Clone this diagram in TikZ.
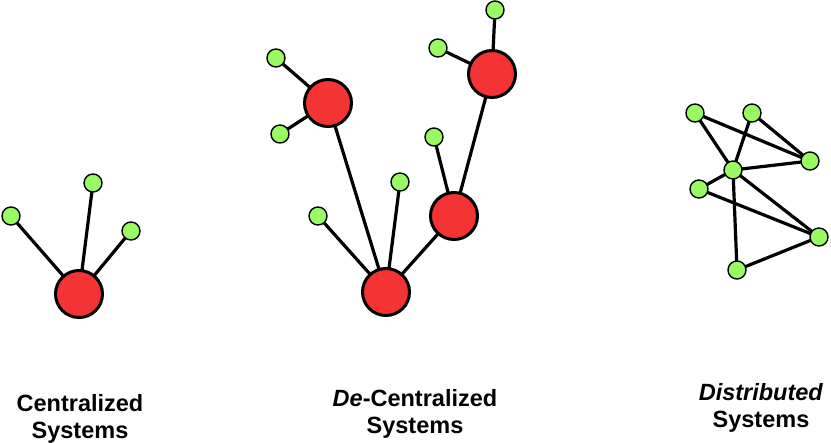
\documentclass[tikz,border=0pt]{standalone}
\usepackage{fontspec}
\setmainfont{Liberation Sans}
\usetikzlibrary{backgrounds}
\definecolor{hubred}{RGB}{244,52,52}
\definecolor{leafgreen}{RGB}{153,250,100}
\begin{document}
\begin{tikzpicture}[x=1pt,y=-1pt,
  hub/.style={circle,draw=black,line width=3pt,fill=hubred,minimum size=47pt,inner sep=0pt},
  leaf/.style={circle,draw=black,line width=1.4pt,fill=leafgreen,minimum size=18pt,inner sep=0pt},
  link/.style={line width=3.2pt},
  lbl/.style={align=center,font=\fontsize{23.5}{27}\selectfont\bfseries}]
\useasboundingbox (0,0) rectangle (831,443);
% Centralized
\node[hub] (c0) at (79,294) {};
\node[leaf] (c1) at (11,216) {};
\node[leaf] (c2) at (93,183) {};
\node[leaf] (c3) at (131,231) {};
% Decentralized
\node[hub] (d0) at (386,292) {};
\node[hub] (d1) at (454,216) {};
\node[hub] (d2) at (328,103) {};
\node[hub] (d3) at (492,74) {};
\node[leaf] (l1) at (318,216) {};
\node[leaf] (l2) at (400,182) {};
\node[leaf] (l3) at (276,58) {};
\node[leaf] (l4) at (280,134) {};
\node[leaf] (l5) at (434,137) {};
\node[leaf] (l6) at (438,48) {};
\node[leaf] (l7) at (495,10) {};
% Distributed
\node[leaf] (pa) at (695,113) {};
\node[leaf] (pb) at (752,113) {};
\node[leaf] (pc) at (810,161) {};
\node[leaf] (pd) at (733,170) {};
\node[leaf] (pe) at (699,189) {};
\node[leaf] (pf) at (819,237) {};
\node[leaf] (pg) at (737,270) {};
\begin{pgfonlayer}{background}
\foreach \a/\b in {c0/c1,c0/c2,c0/c3,
  d0/l1,d0/l2,d0/d2,d0/d1,d1/l5,d1/d3,d2/l3,d2/l4,d3/l6,d3/l7,
  pa/pd,pa/pc,pb/pd,pb/pc,pd/pc,pd/pe,pd/pg,pd/pf,pe/pf,pg/pf}
  \draw[link] (\a.center) -- (\b.center);
\end{pgfonlayer}
% labels
\node[lbl] (t1) at (80,419) {Centralized\\Systems};
\node[lbl] (t2) at (415,414) {\textit{De}-Centralized\\Systems};
\node[lbl] (t3) at (761,408) {\textit{Distributed}\\Systems};
\end{tikzpicture}
\end{document}
